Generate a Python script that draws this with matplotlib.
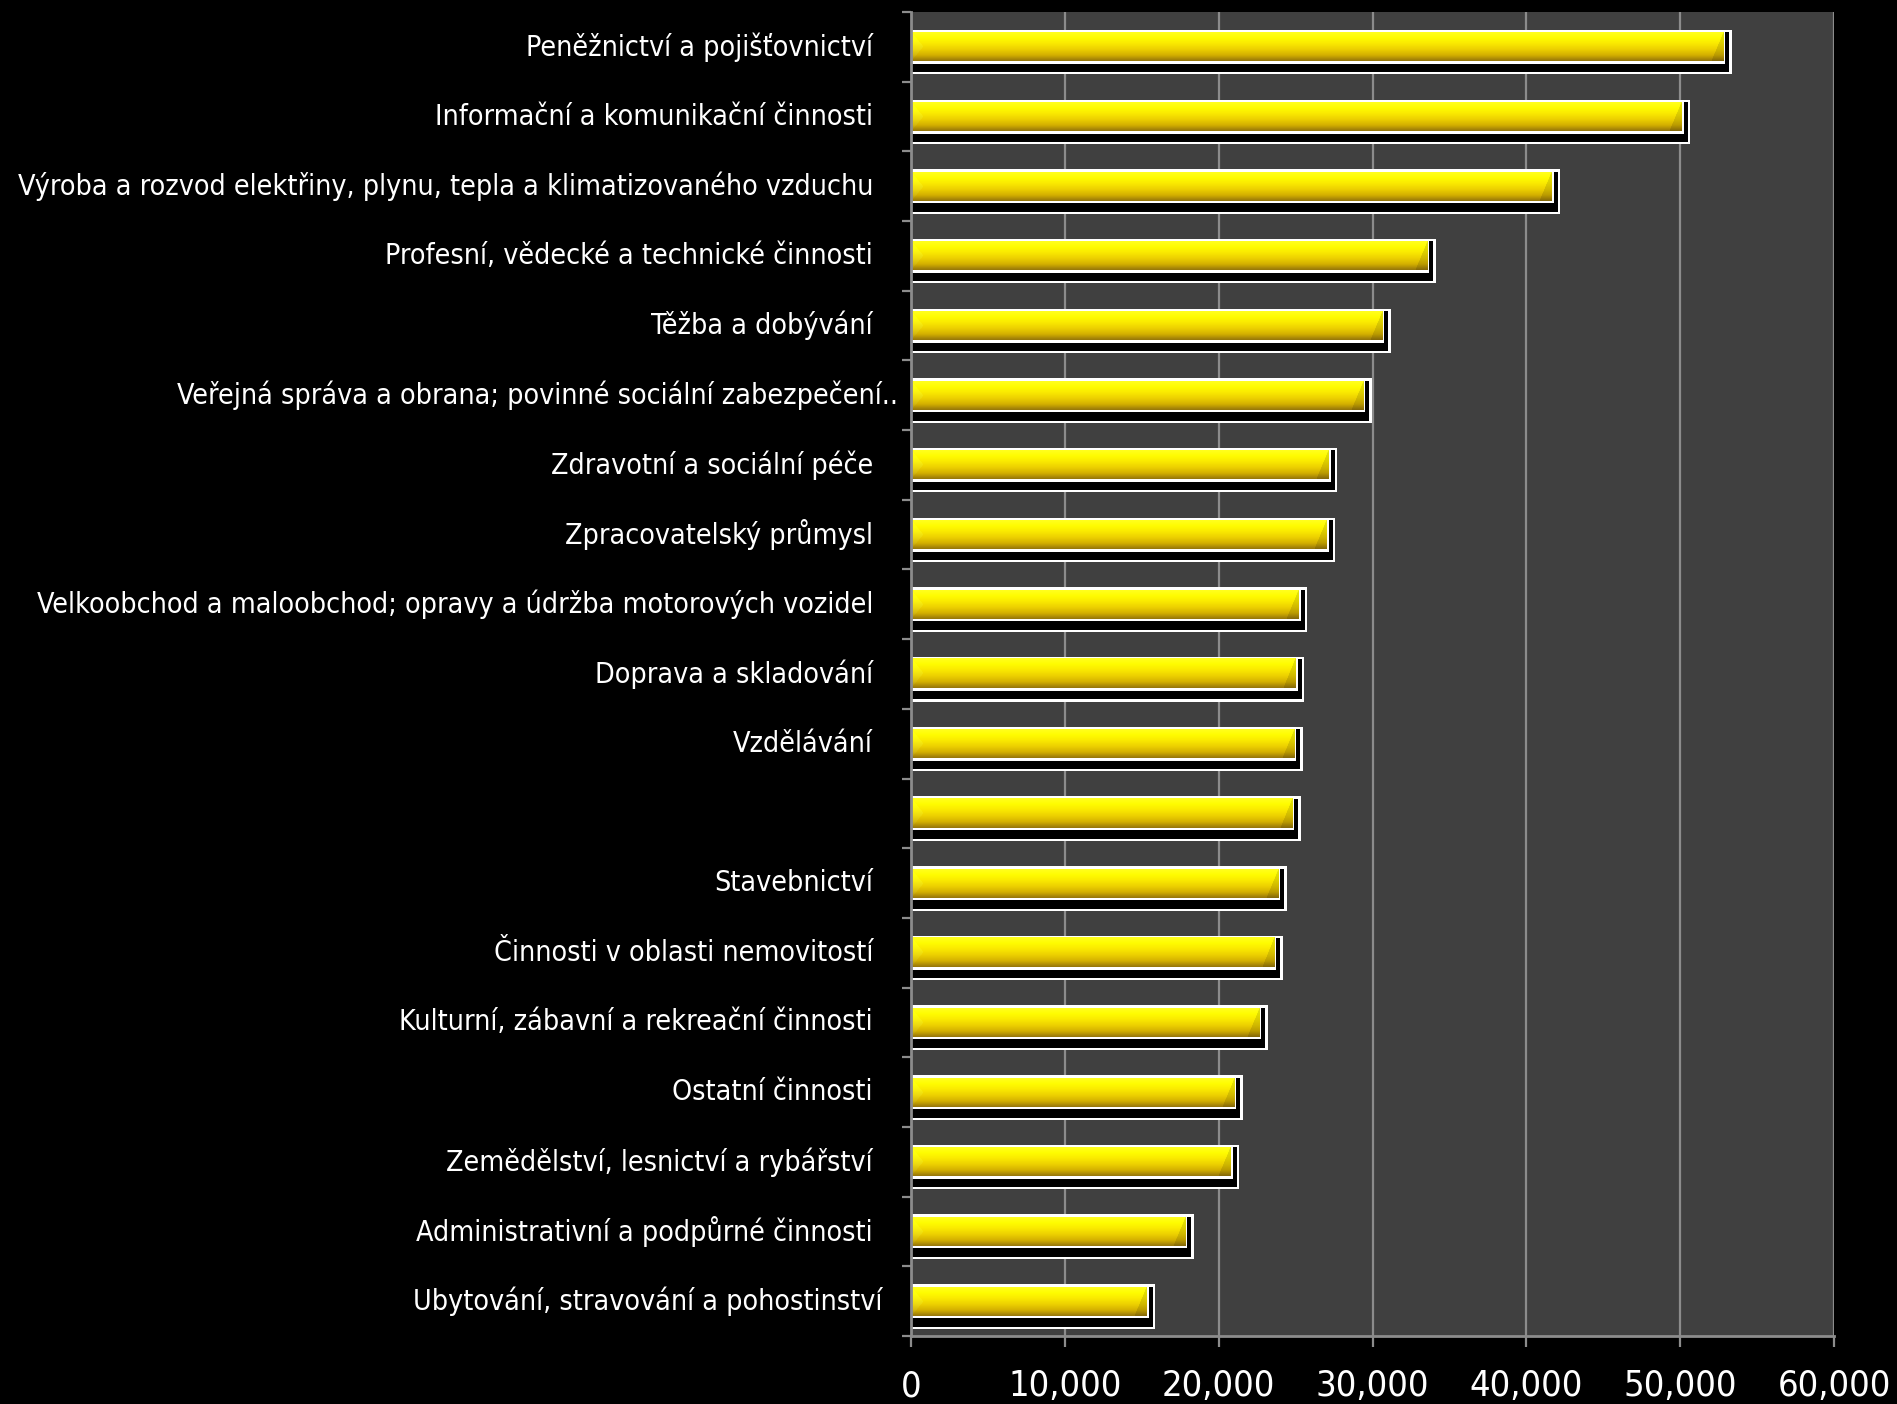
import numpy as np
import matplotlib.pyplot as plt
from matplotlib.patches import Rectangle
from matplotlib.transforms import blended_transform_factory

# odvětví (shora dolů) a průměrná mzda
odvetvi = [
    "Peněžnictví a pojišťovnictví ",
    "Informační a komunikační činnosti ",
    "Výroba a rozvod elektřiny, plynu, tepla a klimatizovaného vzduchu ",
    "Profesní, vědecké a technické činnosti ",
    "Těžba a dobývání ",
    "Veřejná správa a obrana; povinné sociální zabezpečení..",
    "Zdravotní a sociální péče ",
    "Zpracovatelský průmysl ",
    "Velkoobchod a maloobchod; opravy a údržba motorových vozidel ",
    "Doprava a skladování ",
    "Vzdělávání ",
    "",
    "Stavebnictví ",
    "Činnosti v oblasti nemovitostí ",
    "Kulturní, zábavní a rekreační činnosti ",
    "Ostatní činnosti ",
    "Zemědělství, lesnictví a rybářství ",
    "Administrativní a podpůrné činnosti ",
    "Ubytování, stravování a pohostinství",
]
mzdy = [52800, 50100, 41650, 33560, 30630, 29400, 27150, 27040, 25220,
        25020, 24900, 24770, 23880, 23600, 22640, 21010, 20800, 17830, 15340]
x_ticks = [0, 10000, 20000, 30000, 40000, 50000, 60000]

W, H = 1897, 1404
fig = plt.figure(figsize=(W / 100, H / 100), dpi=100, facecolor="black")
ax_l, ax_b, ax_w, ax_h = 911 / W, 1 - 1336 / H, 923 / W, 1324 / H
ax = fig.add_axes([ax_l, ax_b, ax_w, ax_h])
ax.set_facecolor("#404040")

n = len(odvetvi)
xmax = x_ticks[-1]
px_x = xmax / (ax_w * W)       # datové jednotky na pixel
px_y = n / (ax_h * H)

# svislý přechod žluté
stops = np.array([[255, 255, 30], [255, 252, 0], [250, 232, 0],
                  [236, 208, 0], [212, 176, 0], [150, 118, 10]]) / 255.0
bar_h_px = 29
rows = np.linspace(0, 1, bar_h_px * 2)
grad = np.stack([np.interp(rows, np.linspace(0, 1, len(stops)), stops[:, c])
                 for c in range(3)], axis=1)

bh = bar_h_px * px_y
for i, v in enumerate(mzdy):
    top = i - bh / 2
    bot = i + bh / 2
    # bílý obrys celku se stínem
    ax.add_patch(Rectangle((0, top - 2.5 * px_y), v + 8.5 * px_x,
                           bh + 15.5 * px_y, fc="white", ec="none", zorder=2))
    # černý stín
    ax.add_patch(Rectangle((0, top), v + 6 * px_x, bh + 11 * px_y,
                           fc="black", ec="none", zorder=3))
    # bílý rámeček kolem pruhu
    ax.add_patch(Rectangle((0, top - 2.5 * px_y), v + 2 * px_x,
                           bh + 5 * px_y, fc="white", ec="none", zorder=4))
    # žlutý pruh s přechodem a zkosenými konci
    wpx = max(int(round(v / px_x)), 2)
    img = np.repeat(grad[:, None, :], wpx, axis=1).copy()
    hh = img.shape[0]
    yy, xx = np.mgrid[0:hh, 0:wpx]
    t = yy / (hh - 1)
    d_right = wpx - 1 - xx
    bevel = 12
    right = d_right < bevel * t
    img[right] = img[right] * 0.88
    left = xx < bevel * (1 - np.abs(t - 0.5) * 2)
    img[left] = np.clip(img[left] + np.array([0, 0.03, 0.06]), 0, 1)
    ax.imshow(img, extent=[0, v, bot, top], origin="upper", aspect="auto",
              interpolation="bilinear", zorder=5)

ax.set_xlim(0, xmax)
ax.set_ylim(n - 0.5, -0.5)

ax.set_axisbelow(True)
ax.grid(axis="x", color="#8c8c8c", linewidth=1.6, zorder=0)
for side in ("top", "right"):
    ax.spines[side].set_visible(False)
for side in ("left", "bottom"):
    ax.spines[side].set_color("#8c8c8c")
    ax.spines[side].set_linewidth(2)
    ax.spines[side].set_zorder(6)

ax.set_xticks(x_ticks)
ax.set_xticklabels([f"{t:,}" for t in x_ticks], color="white", fontsize=26,
                   family=["DejaVu Sans"], fontstretch="condensed")
ax.tick_params(axis="x", colors="#8c8c8c", length=8, width=1.6, pad=16,
               labelcolor="white")
ax.set_yticks(np.arange(-0.5, n, 1))
ax.set_yticklabels([])
ax.tick_params(axis="y", colors="#8c8c8c", length=6.5, width=1.6)

trans = blended_transform_factory(ax.transAxes, ax.transData)
space_px = 9
for i, lab in enumerate(odvetvi):
    if not lab:
        continue
    if lab.endswith(".."):
        x_px = -13
    else:
        x_px = -29 - space_px * (len(lab) - len(lab.rstrip()))
    ax.text(x_px / (ax_w * W), i, lab.rstrip(), transform=trans, ha="right",
            va="center", color="white", fontsize=20.5,
            family=["DejaVu Sans"], fontstretch="condensed")

fig.savefig("out.png", dpi=100, facecolor="black")
